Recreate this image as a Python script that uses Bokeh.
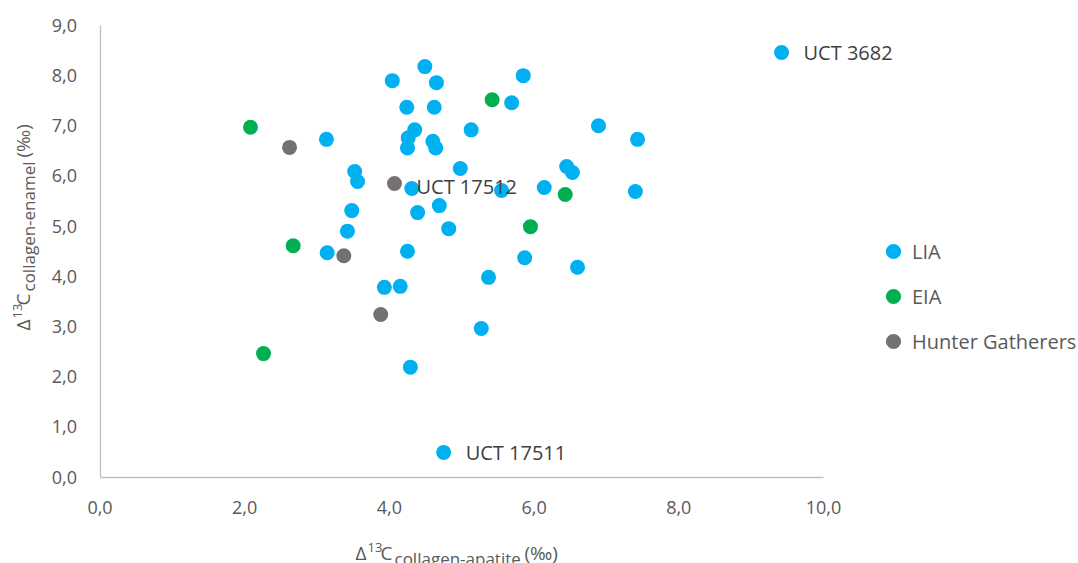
import math
from bokeh.plotting import figure
from bokeh.models import (Range1d, FixedTicker, CustomJSTickFormatter, Legend, LegendItem,
                          Label, LabelSet, ColumnDataSource)
from bokeh.core.properties import value
from bokeh.embed import file_html
from bokeh.resources import INLINE

# ---- data ----
lia_x = [9.42, 4.49, 4.04, 4.65, 5.85, 4.24, 4.62, 5.69, 6.89, 7.43, 3.13, 5.13, 4.35, 4.26,
         4.25, 4.60, 4.64, 4.98, 3.52, 3.56, 4.31, 5.55, 6.14, 6.45, 6.53, 7.40, 3.48, 4.69,
         4.39, 3.42, 4.82, 3.14, 4.25, 5.87, 6.60, 3.93, 4.15, 5.37, 5.27, 4.29, 4.75]
lia_y = [8.46, 8.18, 7.90, 7.86, 8.00, 7.37, 7.37, 7.46, 7.00, 6.73, 6.73, 6.92, 6.92, 6.76,
         6.56, 6.69, 6.56, 6.15, 6.09, 5.89, 5.75, 5.71, 5.77, 6.19, 6.07, 5.69, 5.31, 5.41,
         5.27, 4.90, 4.95, 4.47, 4.50, 4.37, 4.18, 3.78, 3.80, 3.98, 2.96, 2.19, 0.49]
lia_names = ["UCT 3682"] + [""] * 39 + ["UCT 17511"]

eia_x = [2.08, 5.42, 2.67, 5.95, 6.43, 2.26]
eia_y = [6.97, 7.52, 4.61, 4.99, 5.63, 2.46]
eia_names = [""] * 6

hg_x = [2.62, 4.07, 3.37, 3.88]
hg_y = [6.57, 5.85, 4.41, 3.24]
hg_names = ["", "UCT 17512", "", ""]

series = ["LIA", "EIA", "Hunter Gatherers"]
colors = ["#00B0F0", "#00B050", "#767171"]

x_ticks = [0, 2, 4, 6, 8, 10]
y_ticks = [0, 1, 2, 3, 4, 5, 6, 7, 8, 9]
x_bounds = (0, 10)
y_bounds = (0, 9)

FONT = "Open Sans"
TICK_COLOR = "#595959"
TITLE_COLOR = "#595959"
LABEL_COLOR = "#404040"
AXIS_COLOR = "#BFBFBF"

# ---- layout: frame covers the whole canvas, axes fixed at the data origin ----
W, H = 1078, 563
ORIGIN_X, ORIGIN_Y = 99.5, 476.5     # pixel position of (0, 0)
PX_X = 72.35                           # pixels per x unit
PX_Y = 50.17                           # pixels per y unit
x0 = -ORIGIN_X / PX_X
y0 = -(H - ORIGIN_Y) / PX_Y

p = figure(width=W, height=H, output_backend="svg", toolbar_location=None,
           x_range=Range1d(x0, x0 + W / PX_X), y_range=Range1d(y0, y0 + H / PX_Y),
           min_border=0, min_border_left=0, min_border_right=0,
           min_border_top=0, min_border_bottom=0)
p.outline_line_color = None
p.xgrid.visible = False
p.ygrid.visible = False
p.background_fill_color = "white"
p.border_fill_color = "white"

fmt = CustomJSTickFormatter(code="return tick.toFixed(1).replace('.', ',');")
for ax, ticks, bounds, standoff in ((p.xaxis[0], x_ticks, x_bounds, 24),
                                    (p.yaxis[0], y_ticks, y_bounds, 23)):
    ax.fixed_location = 0
    ax.bounds = bounds
    ax.ticker = FixedTicker(ticks=ticks)
    ax.formatter = fmt
    ax.major_tick_line_color = None
    ax.minor_tick_line_color = None
    ax.major_tick_out = 0
    ax.major_tick_in = 0
    ax.axis_line_color = AXIS_COLOR
    ax.axis_line_width = 1.3
    ax.major_label_text_font = FONT
    ax.major_label_text_font_size = "18px"
    ax.major_label_text_color = TICK_COLOR
    ax.major_label_standoff = standoff

renderers = []
for name, xs, ys, c in zip(series, [lia_x, eia_x, hg_x], [lia_y, eia_y, hg_y], colors):
    src = ColumnDataSource(dict(x=xs, y=ys))
    r = p.scatter("x", "y", source=src, size=15, fill_color=c, line_color=c, line_width=0)
    renderers.append(r)

# data labels
lab_x, lab_y, lab_t, lab_dy = [], [], [], []
for xs, ys, names in ((lia_x, lia_y, lia_names), (eia_x, eia_y, eia_names), (hg_x, hg_y, hg_names)):
    for xv, yv, nm in zip(xs, ys, names):
        if nm:
            lab_x.append(xv); lab_y.append(yv); lab_t.append(nm)
            lab_dy.append(-3 if nm == "UCT 17512" else 0)
lab_src = ColumnDataSource(dict(x=lab_x, y=lab_y, t=lab_t, dy=lab_dy))
p.add_layout(LabelSet(x="x", y="y", text="t", source=lab_src, x_offset=22, y_offset="dy",
                      text_font=value(FONT), text_font_size=value("20px"),
                      text_color=LABEL_COLOR, text_baseline="middle", text_align="left"))

legend = Legend(items=[LegendItem(label=s, renderers=[r]) for s, r in zip(series, renderers)],
                location=(874, 203), orientation="vertical", padding=0, margin=0,
                spacing=7, glyph_width=38, glyph_height=38, label_height=38,
                label_standoff=-11, border_line_color=None, background_fill_alpha=0,
                label_text_font=FONT, label_text_font_size="20px",
                label_text_color=TICK_COLOR, label_text_baseline="middle")
p.add_layout(legend, "center")


def title_pieces(parts, start, base, horizontal):
    # parts: (text, offset along the title, font size, baseline shift)
    for txt, off, size, shift in parts:
        if horizontal:
            lab = Label(x=start + off, y=base - shift, x_units="screen", y_units="screen",
                        text=txt, text_font=FONT, text_font_size=size, text_color=TITLE_COLOR,
                        text_baseline="alphabetic", text_align="left")
        else:
            lab = Label(x=base + shift, y=start + off, x_units="screen", y_units="screen",
                        text=txt, text_font=FONT, text_font_size=size, text_color=TITLE_COLOR,
                        text_baseline="alphabetic", text_align="left", angle=math.pi / 2)
        p.add_layout(lab)


x_title = [("Δ", 0, "19px", 0), ("13", 12, "13px", -5), ("C", 25, "19px", 0),
           ("collagen-apatite", 39, "17px", 6), ("(‰)", 169, "19px", 0)]
y_title = [("Δ", 0, "19px", 0), ("13", 12, "13px", -5), ("C", 25, "19px", 0),
           ("collagen-enamel", 39, "17px", 6), ("(‰)", 173, "19px", 0)]
title_pieces(x_title, 355, H - 552, True)
title_pieces(y_title, H - 330, 22, False)

open("out.html", "w").write(file_html(p, INLINE))
